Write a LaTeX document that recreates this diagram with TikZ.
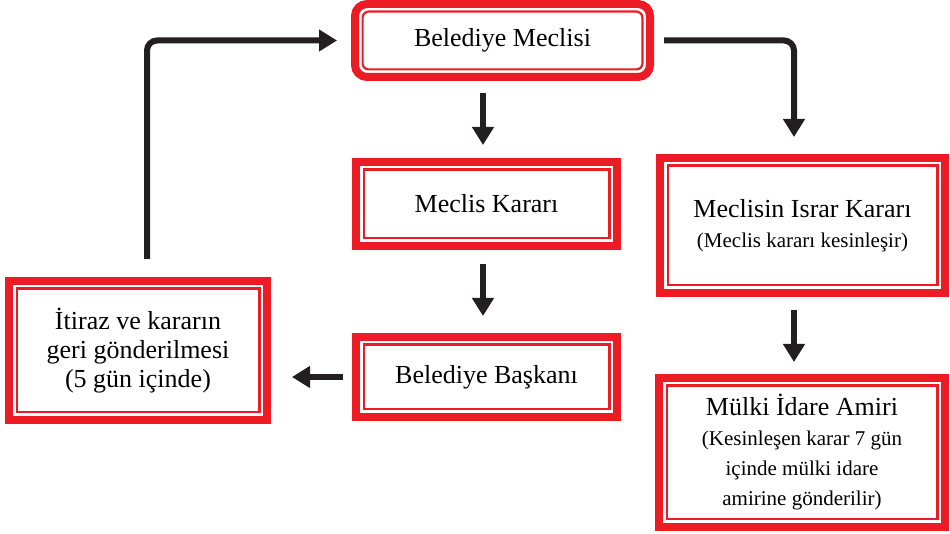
\documentclass[tikz,border=0pt]{standalone}
\usepackage{fontspec}
\setmainfont{Liberation Serif}
\usetikzlibrary{arrows.meta, positioning}

\definecolor{boxred}{RGB}{237,28,36}
\definecolor{arrowblack}{RGB}{35,31,32}
\newcommand{\subfont}{\fontsize{10.5}{12.75}\selectfont}

\begin{document}
\begin{tikzpicture}[
x=0.5pt, y=-0.5pt,
inner corners/.style={sharp corners},
box/.style={
    draw=boxred,
    line width=4pt,
    align=center,
    inner sep=2pt,
    font=\fontsize{13}{15}\selectfont,
    path picture={
        \draw[boxred, line width=1.1pt, inner corners]
            ([shift={(3.8pt,3.8pt)}]path picture bounding box.south west) rectangle
            ([shift={(-3.8pt,-3.8pt)}]path picture bounding box.north east);
    }
},
arrow/.style={-{Triangle[width=10.5pt, length=9pt]}, line width=3pt, draw=arrowblack}
]
\useasboundingbox (0,0) rectangle (950,534);

% Boxes
\node[box, rounded corners=6pt, inner corners/.style={rounded corners=3pt},
      minimum width=147.5pt, minimum height=36.5pt] (meclis) at (502.5,40.5) {Belediye Meclisi};
\node[box, minimum width=130.5pt, minimum height=42pt] (karar) at (486.5,204) {Meclis Kararı};
\node[box, minimum width=130.5pt, minimum height=40pt] (baskani) at (486.5,377) {Belediye Başkanı};
\node[box, minimum width=129pt, minimum height=69.5pt, font=\fontsize{13}{14.3}\selectfont]
      (itiraz) at (138,350.5) {İtiraz ve kararın\\geri gönderilmesi\\(5 gün içinde)};
\node[box, minimum width=142.5pt, minimum height=67.5pt]
      (israr) at (802.5,225.5) {Meclisin Israr Kararı\\\subfont(Meclis kararı kesinleşir)};
\node[box, minimum width=143pt, minimum height=74.5pt]
      (mulki) at (802,452.5) {Mülki İdare Amiri\\\subfont(Kesinleşen karar 7 gün\\\subfont içinde mülki idare\\\subfont amirine gönderilir)};

% Columns of the arrows
\coordinate (lcol) at (483,0);
\coordinate (rcol) at (794,0);
\coordinate (loop) at (147,0);

% Arrows
\draw[arrow, shorten <=6pt, shorten >=6.5pt] (lcol |- meclis.south) -- (lcol |- karar.north);
\draw[arrow, shorten <=7pt, shorten >=8.5pt] (lcol |- karar.south) -- (lcol |- baskani.north);
\draw[arrow, shorten <=6.5pt, shorten >=6pt] (rcol |- israr.south) -- (rcol |- mulki.north);
\draw[arrow, shorten <=4.5pt, shorten >=10.5pt] (baskani.west) -- (itiraz.east |- baskani.west);
\draw[arrow, rounded corners=5pt, shorten <=5pt, shorten >=8.5pt] (meclis.east) -| (rcol |- israr.north);
\draw[arrow, rounded corners=5pt, shorten <=9pt, shorten >=7pt] (loop |- itiraz.north) |- (meclis.west);

\end{tikzpicture}
\end{document}
